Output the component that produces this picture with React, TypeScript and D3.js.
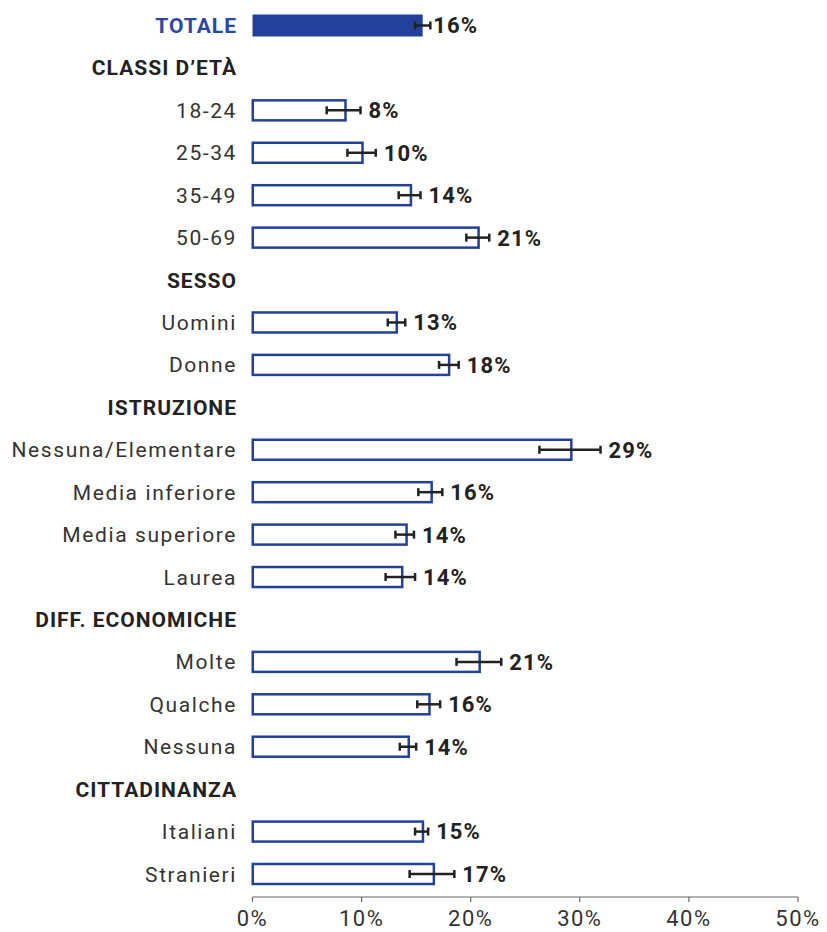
import React from "react";
import * as d3 from "d3";

const categories = [
  "TOTALE", "CLASSI D’ETÀ", "18-24", "25-34", "35-49", "50-69",
  "SESSO", "Uomini", "Donne",
  "ISTRUZIONE", "Nessuna/Elementare", "Media inferiore", "Media superiore", "Laurea",
  "DIFF. ECONOMICHE", "Molte", "Qualche", "Nessuna",
  "CITTADINANZA", "Italiani", "Stranieri",
];
const rowTypes = [
  "total", "header", "item", "item", "item", "item",
  "header", "item", "item",
  "header", "item", "item", "item", "item",
  "header", "item", "item", "item",
  "header", "item", "item",
];
const values = [
  15.6, null, 8.5, 10.06, 14.5, 20.7,
  null, 13.2, 18.0,
  null, 29.2, 16.4, 14.1, 13.7,
  null, 20.8, 16.2, 14.3,
  null, 15.6, 16.6,
];
const ciLow = [
  14.9, null, 6.8, 8.7, 13.4, 19.6,
  null, 12.4, 17.1,
  null, 26.3, 15.2, 13.1, 12.2,
  null, 18.7, 15.1, 13.5,
  null, 14.9, 14.4,
];
const ciHigh = [
  16.3, null, 9.9, 11.3, 15.4, 21.7,
  null, 14.0, 18.9,
  null, 31.9, 17.4, 14.8, 14.9,
  null, 22.8, 17.2, 15.0,
  null, 16.1, 18.5,
];
const valueLabels = [
  "16%", "", "8%", "10%", "14%", "21%",
  "", "13%", "18%",
  "", "29%", "16%", "14%", "14%",
  "", "21%", "16%", "14%",
  "", "15%", "17%",
];
const xTicks = [0, 10, 20, 30, 40, 50];

const W = 827;
const H = 932;
const FONT = "Roboto, 'Noto Sans', sans-serif";
const BLUE = "#23409a";
const DARK = "#222222";

export default function App() {
  const x = d3.scaleLinear().domain([0, 50]).range([252.5, 798]);
  const y = d3
    .scalePoint<number>()
    .domain(categories.map((_, i) => i))
    .range([25.5, 874]);
  const axisY = 897;
  const barH = 20;

  return (
    <svg
      width={W}
      height={H}
      style={{ position: "absolute", left: 0, top: 0, background: "#fff" }}
      fontFamily={FONT}
    >
      {categories.map((c, i) => {
        const cy = y(i) as number;
        const t = rowTypes[i];
        const v = values[i];
        const lo = ciLow[i];
        const hi = ciHigh[i];
        return (
          <g key={i}>
            <text
              x={237}
              y={cy}
              dy="0.36em"
              textAnchor="end"
              fontSize={21}
              fontWeight={t === "item" ? 400 : 700}
              fill={t === "total" ? "#2b47a3" : t === "header" ? DARK : "#333"}
              letterSpacing={t === "item" ? 1.6 : 1.0}
            >
              {c}
            </text>
            {v !== null && (
              <>
                <rect
                  x={x(0) + (t === "total" ? 0 : 0.25)}
                  y={cy - barH / 2 - (t === "total" ? 1 : 0)}
                  width={x(v) - x(0)}
                  height={barH + (t === "total" ? 2 : 0)}
                  fill={t === "total" ? BLUE : "#fff"}
                  stroke={t === "total" ? "none" : BLUE}
                  strokeWidth={2.5}
                />
                <line x1={x(lo!)} x2={x(hi!)} y1={cy} y2={cy} stroke={DARK} strokeWidth={2.5} />
                <line x1={x(lo!)} x2={x(lo!)} y1={cy - 4} y2={cy + 4} stroke={DARK} strokeWidth={2.5} />
                <line x1={x(hi!)} x2={x(hi!)} y1={cy - 4} y2={cy + 4} stroke={DARK} strokeWidth={2.5} />
                <text
                  x={Math.max(x(hi!), x(v)) + (t === "total" ? 3 : 8)}
                  y={cy}
                  dy="0.36em"
                  fontSize={22}
                  fontWeight={700}
                  fill={DARK}
                  letterSpacing={1.1}
                >
                  {valueLabels[i]}
                </text>
              </>
            )}
          </g>
        );
      })}
      <line x1={x(0)} x2={x(50)} y1={axisY} y2={axisY} stroke="#666" strokeWidth={1.2} />
      {xTicks.map((tk) => (
        <g key={tk}>
          <line x1={x(tk)} x2={x(tk)} y1={axisY} y2={axisY + 5} stroke="#666" strokeWidth={1.2} />
          <text
            x={x(tk)}
            y={926}
            textAnchor="middle"
            fontSize={22}
            fill="#333"
            letterSpacing={1.5}
          >
            {tk + "%"}
          </text>
        </g>
      ))}
    </svg>
  );
}
